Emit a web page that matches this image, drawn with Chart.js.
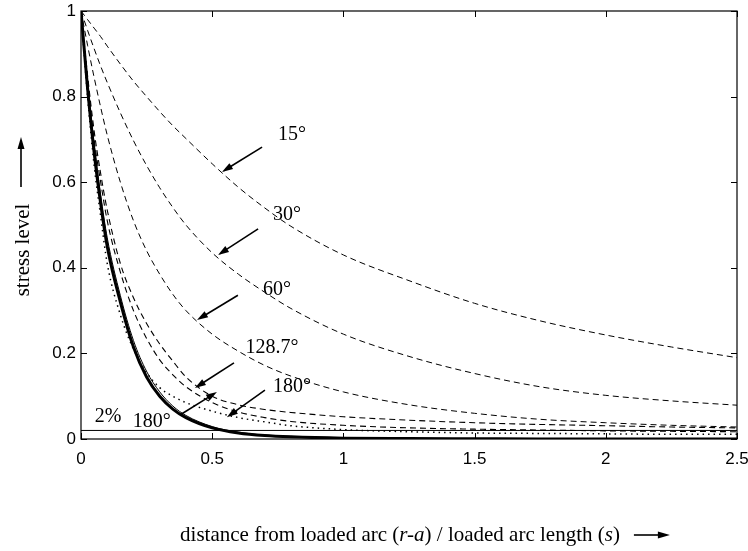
<!DOCTYPE html>
<html>
<head>
<meta charset="utf-8">
<script src="https://cdn.jsdelivr.net/npm/chart.js@4.4.1/dist/chart.umd.min.js"></script>
<style>
  html, body { margin: 0; padding: 0; background: #fff; }
  #wrap { width: 748px; height: 551px; position: relative; }
</style>
</head>
<body>
<div id="wrap"><canvas id="chart" width="748" height="551"></canvas></div>
<script>
/* ------------------------------
   stress level vs distance from loaded arc
   ------------------------------ */

// sample positions along the x axis (r-a)/s
const xs = [0, 0.025, 0.05, 0.075, 0.1, 0.15, 0.2, 0.25, 0.3, 0.35, 0.4, 0.5, 0.6, 0.7, 0.8, 1, 1.25, 1.5, 1.75, 2, 2.25, 2.5];

// dashed curves, one per loaded arc angle
const deg15  = [1, 0.98, 0.96, 0.94, 0.918, 0.876, 0.836, 0.8, 0.765, 0.732, 0.702, 0.643, 0.588, 0.54, 0.497, 0.43, 0.37, 0.317, 0.276, 0.243, 0.215, 0.19];
const deg30  = [1, 0.955, 0.912, 0.871, 0.833, 0.762, 0.697, 0.639, 0.587, 0.541, 0.5, 0.435, 0.385, 0.343, 0.305, 0.245, 0.193, 0.153, 0.122, 0.102, 0.089, 0.079];
const deg60  = [1, 0.92, 0.845, 0.775, 0.71, 0.6, 0.51, 0.44, 0.385, 0.338, 0.3, 0.245, 0.205, 0.172, 0.147, 0.11, 0.08, 0.06, 0.046, 0.038, 0.032, 0.028];
const deg128 = [1, 0.85, 0.72, 0.62, 0.535, 0.41, 0.33, 0.27, 0.222, 0.182, 0.145, 0.1, 0.08, 0.069, 0.062, 0.052, 0.044, 0.038, 0.034, 0.031, 0.028, 0.026];
const deg180 = [1, 0.84, 0.7, 0.6, 0.51, 0.39, 0.3, 0.235, 0.185, 0.15, 0.122, 0.085, 0.063, 0.05, 0.041, 0.032, 0.026, 0.023, 0.021, 0.019, 0.018, 0.017];

// dotted curve (180°) and the solid bundle
const dotted180 = [1, 0.8, 0.64, 0.52, 0.41, 0.29, 0.21, 0.155, 0.12, 0.1, 0.085, 0.065, 0.05, 0.04, 0.031, 0.022, 0.017, 0.014, 0.013, 0.012, 0.011, 0.011];
const solidThick = [1, 0.82, 0.67, 0.55, 0.45, 0.32, 0.215, 0.145, 0.1, 0.07, 0.05, 0.026, 0.014, 0.008, 0.005, 0.002, 0.001, 0.0005, 0, 0, 0, 0];
const solidThin  = [1, 0.83, 0.69, 0.57, 0.47, 0.335, 0.23, 0.158, 0.11, 0.077, 0.055, 0.029, 0.016, 0.009, 0.006, 0.003, 0.0015, 0.0008, 0.0003, 0, 0, 0];

// 2% reference level
const twoPercent = 0.02;

// tick values
const xTicks = [0, 0.5, 1, 1.5, 2, 2.5];
const yTicks = [0, 0.2, 0.4, 0.6, 0.8, 1];

// curve labels, in data units: [text, x, y]
const labels = [
    ['15°', 0.804, 0.71],
    ['30°', 0.785, 0.523],
    ['60°', 0.747, 0.348],
    ['128.7°', 0.728, 0.213],
    ['180°', 0.804, 0.121],
    ['180°', 0.27, 0.04],
    ['2%', 0.103, 0.051]
];
// arrows, in data units: [tailX, tailY, headX, headY]
const arrows = [
    [0.69, 0.682, 0.537, 0.624],
    [0.675, 0.491, 0.522, 0.43],
    [0.598, 0.336, 0.442, 0.278],
    [0.583, 0.178, 0.434, 0.119],
    [0.701, 0.114, 0.556, 0.051],
    [0.377, 0.056, 0.518, 0.11]
];

const toPoints = (ys) => xs.map((x, i) => ({ x: x, y: ys[i] }));

function curve(ys, dash, width) {
    return {
        data: toPoints(ys),
        borderColor: '#000',
        borderWidth: width,
        borderDash: dash,
        pointRadius: 0,
        fill: false,
        cubicInterpolationMode: 'monotone'
    };
}

const serif = '"Liberation Serif", "DejaVu Serif", serif';

// ------------------------------
// Plugin: frame, inward ticks, annotations, axis titles
// ------------------------------
const decorations = {
    id: 'decorations',
    afterDatasetsDraw(chart) {
        const c = chart.ctx;
        const a = chart.chartArea;
        const sx = chart.scales.x, sy = chart.scales.y;

        c.save();
        c.strokeStyle = '#000';
        c.lineWidth = 1.2;
        c.setLineDash([]);
        c.strokeRect(a.left, a.top, a.right - a.left, a.bottom - a.top);

        // inward tick marks on all four sides
        c.lineWidth = 1;
        c.beginPath();
        xTicks.forEach(v => {
            const px = Math.round(sx.getPixelForValue(v)) + 0.5;
            c.moveTo(px, a.bottom); c.lineTo(px, a.bottom - 6);
            c.moveTo(px, a.top); c.lineTo(px, a.top + 6);
        });
        yTicks.forEach(v => {
            const py = Math.round(sy.getPixelForValue(v)) + 0.5;
            c.moveTo(a.left, py); c.lineTo(a.left + 6, py);
            c.moveTo(a.right, py); c.lineTo(a.right - 6, py);
        });
        c.stroke();

        // arrows
        c.lineWidth = 1.6;
        c.fillStyle = '#000';
        arrows.forEach(([x0, y0, x1, y1]) => {
            const ax = sx.getPixelForValue(x0), ay = sy.getPixelForValue(y0);
            const bx = sx.getPixelForValue(x1), by = sy.getPixelForValue(y1);
            const ang = Math.atan2(by - ay, bx - ax);
            const len = 11, wid = 3.5;
            c.beginPath();
            c.moveTo(ax, ay);
            c.lineTo(bx - Math.cos(ang) * len * 0.8, by - Math.sin(ang) * len * 0.8);
            c.stroke();
            c.beginPath();
            c.moveTo(bx, by);
            c.lineTo(bx - Math.cos(ang) * len - Math.sin(ang) * wid, by - Math.sin(ang) * len + Math.cos(ang) * wid);
            c.lineTo(bx - Math.cos(ang) * len + Math.sin(ang) * wid, by - Math.sin(ang) * len - Math.cos(ang) * wid);
            c.closePath();
            c.fill();
        });

        // curve labels
        c.font = '20px ' + serif;
        c.textAlign = 'center';
        c.textBaseline = 'middle';
        labels.forEach(([t, x, y]) => {
            c.fillText(t, sx.getPixelForValue(x), sy.getPixelForValue(y));
        });

        // y axis title with arrow
        c.save();
        c.translate(23, 250);
        c.rotate(-Math.PI / 2);
        c.font = '21px ' + serif;
        c.fillText('stress level', 0, 0);
        c.restore();
        c.lineWidth = 1.6;
        c.beginPath();
        c.moveTo(21, 187); c.lineTo(21, 146);
        c.stroke();
        c.beginPath();
        c.moveTo(21, 137); c.lineTo(17.5, 149); c.lineTo(24.5, 149);
        c.closePath(); c.fill();

        // x axis title, with italic parts
        const parts = [
            ['distance from loaded arc (', false],
            ['r-a', true],
            [') / loaded arc length (', false],
            ['s', true],
            [')', false]
        ];
        const regular = '21px ' + serif;
        const italic = 'italic 21px ' + serif;
        let total = 0;
        parts.forEach(([t, it]) => { c.font = it ? italic : regular; total += c.measureText(t).width; });
        let px = 400 - total / 2;
        const py = 535;
        c.textAlign = 'left';
        parts.forEach(([t, it]) => {
            c.font = it ? italic : regular;
            c.fillText(t, px, py);
            px += c.measureText(t).width;
        });
        const ax0 = px + 14, ax1 = px + 50;
        c.beginPath();
        c.moveTo(ax0, py); c.lineTo(ax1 - 9, py);
        c.stroke();
        c.beginPath();
        c.moveTo(ax1, py); c.lineTo(ax1 - 12, py - 3.5); c.lineTo(ax1 - 12, py + 3.5);
        c.closePath(); c.fill();

        c.restore();
    }
};

const ctx = document.getElementById('chart').getContext('2d');
const chart = new Chart(ctx, {
    type: 'line',
    data: {
        datasets: [
            curve(deg15, [6, 4], 1),
            curve(deg30, [6, 4], 1),
            curve(deg60, [6, 4], 1),
            curve(deg128, [6, 4], 1.1),
            curve(deg180, [6, 4], 1.1),
            curve(dotted180, [1.5, 4], 1.5),
            curve(solidThin, [], 1),
            curve(solidThick, [], 3),
            {
                data: [{ x: 0, y: twoPercent }, { x: 2.5, y: twoPercent }],
                borderColor: '#000',
                borderWidth: 1,
                pointRadius: 0,
                fill: false
            }
        ]
    },
    options: {
        responsive: false,
        animation: false,
        events: [],
        layout: { padding: { top: 0, right: 0, left: 0, bottom: 0 } },
        plugins: { legend: { display: false }, tooltip: { enabled: false } },
        scales: {
            x: {
                type: 'linear',
                min: 0, max: 2.5,
                afterFit: (s) => { s.height = 112; s.paddingRight = 11; },
                afterBuildTicks: (s) => { s.ticks = xTicks.map(v => ({ value: v })); },
                grid: { display: false, drawTicks: false },
                border: { display: false },
                ticks: {
                    color: '#000',
                    padding: 10,
                    font: { family: '"Liberation Sans", Arial, sans-serif', size: 17 },
                    callback: (v) => String(v)
                }
            },
            y: {
                type: 'linear',
                min: 0, max: 1,
                afterFit: (s) => { s.width = 81; s.paddingTop = 11; },
                afterBuildTicks: (s) => { s.ticks = yTicks.map(v => ({ value: v })); },
                grid: { display: false, drawTicks: false },
                border: { display: false },
                ticks: {
                    color: '#000',
                    padding: 5,
                    font: { family: '"Liberation Sans", Arial, sans-serif', size: 17 },
                    callback: (v) => String(v)
                }
            }
        }
    },
    plugins: [decorations]
});
</script>
</body>
</html>
